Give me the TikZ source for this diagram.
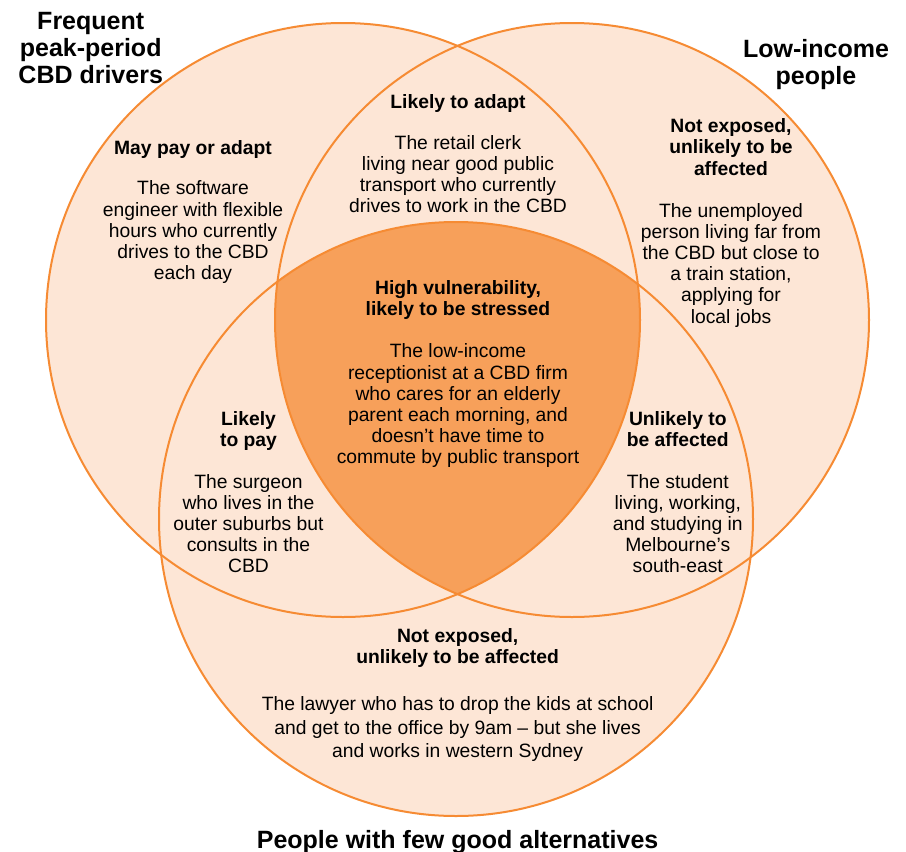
\documentclass[tikz,border=0pt]{standalone}
\usepackage{fontspec}
\setmainfont{Liberation Sans}
\definecolor{vstroke}{HTML}{F68B33}
\definecolor{vlight}{HTML}{FDE6D6}
\definecolor{vdark}{HTML}{F7A05A}
\begin{document}
\begin{tikzpicture}[x=1pt,y=-1pt,
  ring/.style={draw=vstroke, line width=2pt},
  ttl/.style={font=\bfseries\fontsize{25}{27}\selectfont, align=center, inner sep=0pt, execute at begin node=\strut, execute at end node=\strut},
  lbl/.style={font=\bfseries\fontsize{19.3}{21.2}\selectfont, align=center, inner sep=0pt, execute at begin node=\strut, execute at end node=\strut},
  body/.style={font=\fontsize{19.3}{21.2}\selectfont, align=center, inner sep=0pt, execute at begin node=\strut, execute at end node=\strut}]
\useasboundingbox (0,0) rectangle (906,852);
\fill[white] (0,0) rectangle (906,852);
\coordinate (cA) at (343,320);
\coordinate (cB) at (572,320);
\coordinate (cC) at (456,519);
\def\rr{297pt}
\fill[vlight] (cA) circle[radius=\rr];
\fill[vlight] (cB) circle[radius=\rr];
\fill[vlight] (cC) circle[radius=\rr];
\begin{scope}
  \clip (cA) circle[radius=\rr];
  \clip (cB) circle[radius=\rr];
  \fill[vdark] (cC) circle[radius=\rr];
\end{scope}
\draw[ring] (cA) circle[radius=\rr];
\draw[ring] (cB) circle[radius=\rr];
\draw[ring] (cC) circle[radius=\rr];

\node[ttl] (tFreq) at (90.7,51.6) {Frequent\\peak-period\\CBD drivers};
\node[ttl] (tLow) at (816,66) {Low-income\\people};
\node[ttl] (tPeople) at (457.6,843) {People with few good alternatives};

\node[lbl] (l1) at (193,150) {May pay or adapt};
\node[body] (b1) at (193,233.5) {The software\\engineer with flexible\\hours who currently\\drives to the CBD\\each day};
\node[lbl] (l2) at (458,104) {Likely to adapt};
\node[body] (b2) at (458,177) {The retail clerk\\living near good public\\transport who currently\\drives to work in the CBD};
\node[lbl] (l3) at (731,150) {Not exposed,\\unlikely to be\\affected};
\node[body] (b3) at (731,266.3) {The unemployed\\person living far from\\the CBD but close to\\a train station,\\applying for\\local jobs};
\node[lbl] (l4) at (458,301.5) {High vulnerability,\\likely to be stressed};
\node[body] (b4) at (458,407.1) {The low-income\\receptionist at a CBD firm\\who cares for an elderly\\parent each morning, and\\doesn’t have time to\\commute by public transport};
\node[lbl] (l5) at (248.5,432.5) {Likely\\to pay};
\node[body] (b5) at (248.5,526.7) {The surgeon\\who lives in the\\outer suburbs but\\consults in the\\CBD};
\node[lbl] (l6) at (677.8,432.5) {Unlikely to\\be affected};
\node[body] (b6) at (677.8,526.7) {The student\\living, working,\\and studying in\\Melbourne’s\\south-east};
\node[lbl] (l7) at (457.6,649) {Not exposed,\\unlikely to be affected};
\node[body, font=\fontsize{19.3}{23.5}\selectfont] (b7) at (457.6,730.7) {The lawyer who has to drop the kids at school\\and get to the office by 9am – but she lives\\and works in western Sydney};
\end{tikzpicture}
\end{document}
